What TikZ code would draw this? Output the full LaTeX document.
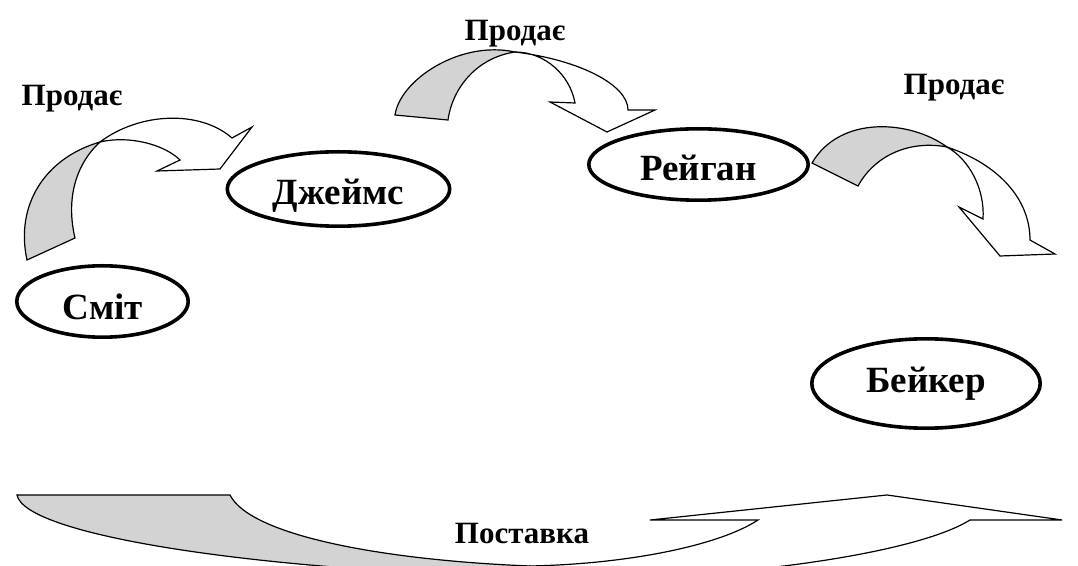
\documentclass[tikz,border=0pt]{standalone}
\usepackage{fontspec}
\setmainfont{Liberation Serif}
\usepackage{tikz}
\usetikzlibrary{shapes.geometric}
\definecolor{ribbongray}{RGB}{211,211,211}

\begin{document}
\begin{tikzpicture}[x=0.5pt, y=-0.5pt,
  person/.style={ellipse, draw, line width=1.8pt, inner sep=0pt, text depth=0pt,
                 text height=16pt, font=\fontsize{18.5}{20}\selectfont\bfseries},
  tag/.style={inner sep=0pt, text depth=0pt, font=\fontsize{15.5}{17}\selectfont\bfseries},
  back/.style={draw, line width=0.6pt, fill=ribbongray},
  front/.style={draw, line width=0.6pt, fill=white}
]
\useasboundingbox (0,0) rectangle (1078,566);
\clip (0,0) rectangle (1078,566);

% Smith -> James
\draw[back]  (100,142) .. controls (45,158) and (15,205) .. (27,260) -- (75,238)
             .. controls (66,200) and (75,165) .. (100,142) -- cycle;
\draw[front] (100,142) .. controls (140,112) and (200,110) .. (232,138) -- (252,127)
             -- (220,169) -- (157,171) -- (180,160)
             .. controls (165,145) and (130,135) .. (100,142) -- cycle;

% James -> Reagan
\draw[back]  (515,52) .. controls (460,40) and (400,80) .. (395,115) -- (448,120)
             .. controls (452,90) and (475,58) .. (515,52) -- cycle;
\draw[front] (515,52) .. controls (580,60) and (628,85) .. (628,110) -- (655,110)
             -- (607,132) -- (550,102) -- (575,103)
             .. controls (570,75) and (545,52) .. (515,52) -- cycle;

% Reagan -> Baker
\draw[back]  (947,147) .. controls (910,120) and (840,115) .. (812,163) -- (858,186)
             .. controls (875,155) and (910,140) .. (947,147) -- cycle;
\draw[front] (947,147) .. controls (1000,165) and (1030,200) .. (1030,240) -- (1055,254)
             -- (1000,256) -- (959,207) -- (983,219)
             .. controls (985,190) and (970,160) .. (947,147) -- cycle;

% supply
\draw[back]  (17,495) -- (230,495) .. controls (250,535) and (380,560) .. (530,566)
             -- (530,575) -- (480,575) .. controls (250,568) and (25,535) .. (17,495) -- cycle;
\draw[front] (530,566) .. controls (630,564) and (720,545) .. (758,520) -- (650,520)
             -- (887,495) -- (1062,520) -- (970,520)
             .. controls (930,545) and (820,566) .. (690,575) -- (530,575) -- cycle;

\node[person, minimum width=85.7pt,  minimum height=35.7pt, text height=18pt] (smith) at (102.5,301.5) {Сміт};
\node[person, minimum width=111.2pt, minimum height=37.2pt] (james)  at (338.5,189)   {Джеймс};
\node[person, minimum width=109.7pt, minimum height=35.7pt] (reagan) at (698.5,164.5) {Рейган};
\node[person, minimum width=114.2pt, minimum height=44.7pt, text height=9pt] (baker) at (926,383.5) {Бейкер};

\node[tag] (sell1)  at (72,95.5) {Продає};
\node[tag] (sell2)  at (515,30)  {Продає};
\node[tag] (sell3)  at (954,84)  {Продає};
\node[tag] (supply) at (522,533) {Поставка};
\end{tikzpicture}
\end{document}
